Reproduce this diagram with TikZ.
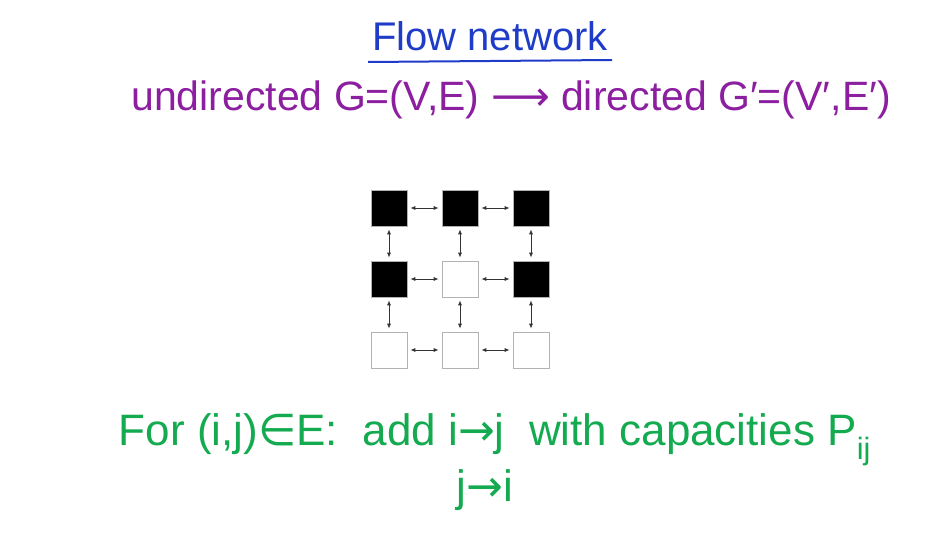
\documentclass[tikz,border=0pt]{standalone}
\usepackage{fontspec}
\setmainfont{Liberation Sans}
\newfontfamily\symfont{DejaVu Sans}
\usetikzlibrary{arrows.meta}
\definecolor{titleblue}{RGB}{30,60,200}
\definecolor{penpurple}{RGB}{140,30,160}
\definecolor{pengreen}{RGB}{20,170,80}
\tikzset{
  cell/.style={draw=gray!60,line width=0.6pt,minimum size=36pt,inner sep=0pt},
  full/.style={cell,fill=black},
  empty/.style={cell,fill=white},
  link/.style={{Latex[length=5pt,width=4pt]}-{Latex[length=5pt,width=4pt]},draw=black!80,line width=0.8pt,shorten >=3pt,shorten <=3pt}
}
\begin{document}
\begin{tikzpicture}[x=1pt,y=-1pt]
\useasboundingbox (0,0) rectangle (945,533);

% heading
\node[titleblue,font=\fontsize{40}{42}\selectfont] (title) at (490,36) {Flow network};
\draw[titleblue,line width=2pt] (368,62) -- (612,60);
\node[penpurple,font=\fontsize{41}{43}\selectfont] (map) at (511,100) {undirected G=(V,E) {\symfont ⟶} directed G′=(V′,E′)};

% grid
\node[full] (n00) at (389,208) {};
\node[full] (n10) at (460,208) {};
\node[full] (n20) at (531,208) {};
\node[full] (n01) at (389,279) {};
\node[empty] (n11) at (460,279) {};
\node[full] (n21) at (531,279) {};
\node[empty] (n02) at (389,350) {};
\node[empty] (n12) at (460,350) {};
\node[empty] (n22) at (531,350) {};

\foreach \r in {0,1,2}{
  \draw[link] (n0\r) -- (n1\r);
  \draw[link] (n1\r) -- (n2\r);
  \draw[link] (n\r0) -- (n\r1);
  \draw[link] (n\r1) -- (n\r2);
}

% rule
\node[pengreen,font=\fontsize{44}{46}\selectfont] (rule) at (495,440) {For (i,j){\symfont ∈}E: \ add i{\symfont →}j \ with capacities P\textsubscript{ij}};
\node[pengreen,font=\fontsize{44}{46}\selectfont] (back) at (485,490) {j{\symfont →}i};
\end{tikzpicture}
\end{document}
